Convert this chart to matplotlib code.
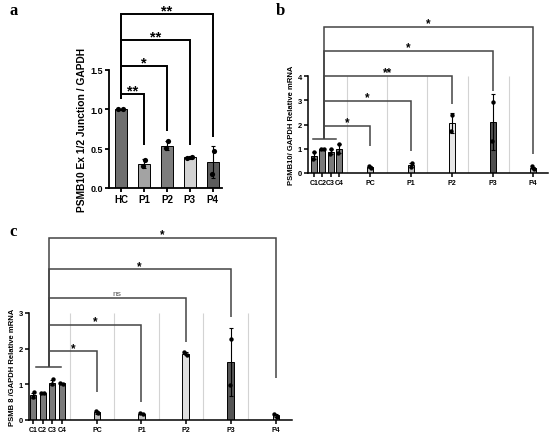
import matplotlib.pyplot as plt

plt.rcParams['font.family'] = ['Liberation Sans', 'DejaVu Sans']
plt.rcParams['font.weight'] = 'bold'
plt.rcParams['axes.labelweight'] = 'bold'

# ---- panel a data
a_labels = ['HC', 'P1', 'P2', 'P3', 'P4']
a_means = [1.0, 0.31, 0.54, 0.39, 0.33]
a_sd = [0.01, 0.06, 0.06, 0.02, 0.20]
a_points = [[1.0, 1.0], [0.36, 0.28], [0.60, 0.51], [0.38, 0.40], [0.47, 0.18]]
a_sig = ['**', '*', '**', '**']

# ---- panel b data
b_labels = ['C1', 'C2', 'C3', 'C4', 'PC', 'P1', 'P2', 'P3', 'P4']
b_means = [0.72, 1.0, 0.88, 1.0, 0.25, 0.32, 2.06, 2.10, 0.22]
b_sd = [0.15, 0.02, 0.10, 0.18, 0.05, 0.08, 0.42, 1.15, 0.04]
b_points = [[0.88, 0.56], [1.0, 1.0], [0.98, 0.80], [1.18, 0.84], [0.29, 0.21],
            [0.42, 0.25], [2.39, 1.74], [2.93, 1.32], [0.27, 0.18]]
b_sig = ['*', '*', '**', '*', '*']

# ---- panel c data
c_labels = ['C1', 'C2', 'C3', 'C4', 'PC', 'P1', 'P2', 'P3', 'P4']
c_means = [0.70, 0.76, 1.05, 1.03, 0.22, 0.18, 1.86, 1.62, 0.13]
c_sd = [0.07, 0.02, 0.08, 0.02, 0.04, 0.02, 0.05, 0.95, 0.05]
c_points = [[0.78, 0.64], [0.77, 0.75], [1.15, 1.00], [1.05, 1.02], [0.26, 0.19],
            [0.20, 0.17], [1.90, 1.82], [2.28, 0.98], [0.18, 0.09]]
c_sig = ['*', '*', 'ns', '*', '*']


def bars(ax, xpos, means, sd, points, colors, width, ymax, dot):
    ax.bar(xpos, means, width=width, color=colors, edgecolor='black', linewidth=0.7, zorder=2)
    ax.errorbar(xpos, means, yerr=sd, fmt='none', ecolor='black', elinewidth=0.8,
                capsize=1.5, capthick=0.8, zorder=3)
    for x, pts in zip(xpos, points):
        if abs(pts[0] - pts[1]) < 0.04 * ymax:
            offs = [-0.22 * width, 0.22 * width]
        else:
            offs = [0.08 * width, -0.08 * width]
        ax.scatter([x + o for o in offs], pts, s=dot, color='black', zorder=4, linewidths=0)


def style(ax, ymax, yticks, xlim, tick_fs, lw):
    for s in ['top', 'right']:
        ax.spines[s].set_visible(False)
    ax.spines['left'].set_bounds(0, ymax)
    ax.spines['left'].set_linewidth(lw)
    ax.spines['bottom'].set_linewidth(lw)
    ax.set_ylim(0, ymax)
    ax.set_xlim(*xlim)
    ax.set_yticks(yticks)
    ax.tick_params(direction='out', length=3, width=lw, labelsize=tick_fs, pad=1.5)


def bracket(ax, x0, x1, y, yl, yr, text, color, fs, lw, bold=True):
    ax.plot([x0, x0, x1, x1], [yl, y, y, yr], color=color, lw=lw, clip_on=False,
            solid_capstyle='butt', solid_joinstyle='miter', zorder=5)
    ax.annotate(text, xy=((x0 + x1) / 2, y), xytext=(0, 2.5 if bold else 3.5),
                textcoords='offset points', ha='center', va='center', fontsize=fs,
                fontweight='bold' if bold else 'normal', color='black' if bold else '#555555',
                annotation_clip=False)


fig = plt.figure(figsize=(5.5, 4.39), dpi=100)

# ---------------- panel a
axa = fig.add_axes([109 / 550, 1 - 189 / 439, 113 / 550, 118 / 439])
a_x = list(range(len(a_labels)))
bars(axa, a_x, a_means, a_sd, a_points,
     ['#6f6f6f', '#a3a3a3', '#7d7d7d', '#d2d2d2', '#5c5c5c'], 0.5, 1.5, 14)
style(axa, 1.5, [0.0, 0.5, 1.0, 1.5], (-0.52, 4.4), 6.5, 1.3)
axa.set_yticklabels(['0.0', '0.5', '1.0', '1.5'])
axa.set_xticks(a_x)
axa.set_xticklabels(a_labels, fontsize=7)
axa.set_ylabel('PSMB10 Ex 1/2 Junction / GAPDH', fontsize=7.4, labelpad=2)
a_levels = [1.20, 1.55, 1.88, 2.21]
a_ends = [0.55, 0.72, 0.55, 0.65]
for i, (lev, end, sig) in enumerate(zip(a_levels, a_ends, a_sig)):
    bracket(axa, a_x[0], a_x[i + 1], lev, 1.13, end, sig, 'black', 10.5, 1.4)
fig.text(10 / 550, 1 - 11 / 439, 'a', family='Liberation Serif', fontsize=12,
         fontweight='bold', va='center')

# ---------------- panel b
axb = fig.add_axes([308 / 550, 1 - 174 / 439, 240 / 550, 97 / 439])
b_x = [0, 1, 2, 3, 6.75, 11.7, 16.6, 21.55, 26.4]
b_seps = [4.0, 8.85, 13.65, 18.55, 23.45]
axb.vlines(b_seps, 0, 4, color='#d3d3d3', lw=0.8, zorder=0)
bars(axb, b_x, b_means, b_sd, b_points,
     ['#7a7a7a'] * 4 + ['#c2c2c2', '#bdbdbd', '#e6e6e6', '#4f4f4f', '#c0c0c0'], 0.72, 4, 10)
style(axb, 4, [0, 1, 2, 3, 4], (-0.72, 28.2), 5.5, 1.1)
axb.set_xticks(b_x)
axb.set_xticklabels(b_labels, fontsize=5)
axb.set_ylabel('PSMB10/ GAPDH Relative mRNA', fontsize=5.5, labelpad=2)
axb.plot([-0.1, 2.7], [1.4, 1.4], color='#444444', lw=1.1, zorder=5)
b_levels = [1.95, 2.98, 4.0, 5.03, 6.02]
b_ends = [1.1, 0.9, 2.85, 3.4, 0.8]
for i, (lev, end, sig) in enumerate(zip(b_levels, b_ends, b_sig)):
    bracket(axb, 1.25, b_x[4 + i], lev, 1.4, end, sig, '#444444', 8.5, 1.1)
fig.text(276 / 550, 1 - 11 / 439, 'b', family='Liberation Serif', fontsize=12,
         fontweight='bold', va='center')

# ---------------- panel c
axc = fig.add_axes([29 / 550, 18 / 439, 263 / 550, 107 / 439])
c_x = [0, 1, 2, 3, 6.67, 11.3, 15.9, 20.6, 25.3]
c_seps = [3.85, 8.45, 13.1, 17.7, 22.4]
axc.vlines(c_seps, 0, 3, color='#d3d3d3', lw=0.8, zorder=0)
bars(axc, c_x, c_means, c_sd, c_points,
     ['#7a7a7a'] * 4 + ['#bdbdbd', '#c2c2c2', '#e0e0e0', '#555555', '#c0c0c0'], 0.65, 3, 10)
style(axc, 3, [0, 1, 2, 3], (-0.42, 27.0), 5.5, 1.1)
axc.set_xticks(c_x)
axc.set_xticklabels(c_labels, fontsize=5)
axc.set_ylabel('PSMB 8 /GAPDH Relative mRNA', fontsize=5.5, labelpad=2)
axc.plot([0.3, 2.9], [1.48, 1.48], color='#444444', lw=1.1, zorder=5)
c_levels = [1.93, 2.66, 3.42, 4.23, 5.10]
c_ends = [0.78, 0.50, 2.18, 2.90, 1.18]
for i, (lev, end, sig) in enumerate(zip(c_levels, c_ends, c_sig)):
    bracket(axc, 1.65, c_x[4 + i], lev, 1.48, end, sig, '#444444',
            8.5 if sig != 'ns' else 6, 1.1, bold=(sig != 'ns'))
fig.text(9 / 550, 1 - 232 / 439, 'c', family='Liberation Serif', fontsize=12,
         fontweight='bold', va='center')

fig.savefig('out.png', dpi=100)
